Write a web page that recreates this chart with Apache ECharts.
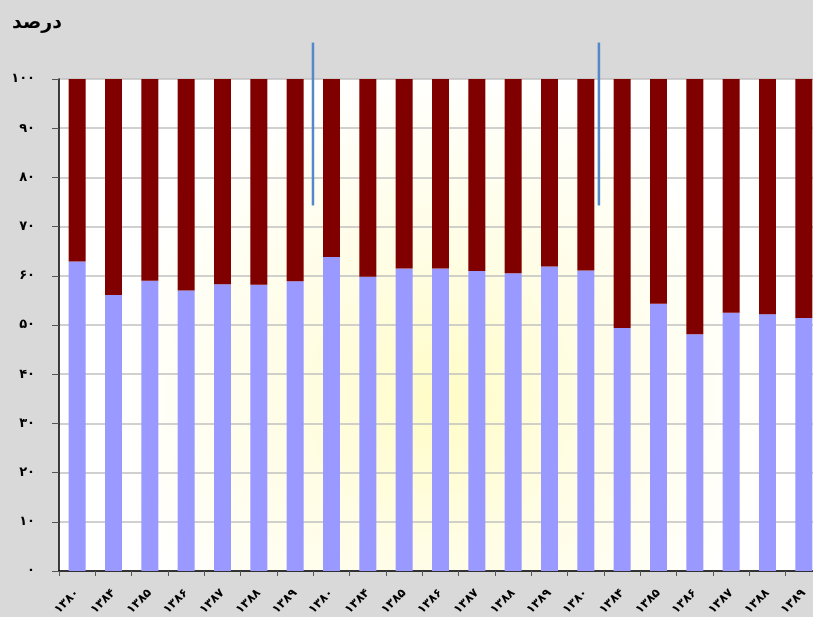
<!DOCTYPE html>
<html>
<head>
<meta charset="utf-8">
<script src="https://cdn.jsdelivr.net/npm/echarts@6/dist/echarts.min.js"></script>
<style>
html,body{margin:0;padding:0;background:#d9d9d9;}
#c{width:813px;height:617px;}
</style>
</head>
<body>
<div id="c"></div>
<script>
const categories = ['۱۳۸۰','۱۳۸۴','۱۳۸۵','۱۳۸۶','۱۳۸۷','۱۳۸۸','۱۳۸۹',
                    '۱۳۸۰','۱۳۸۴','۱۳۸۵','۱۳۸۶','۱۳۸۷','۱۳۸۸','۱۳۸۹',
                    '۱۳۸۰','۱۳۸۴','۱۳۸۵','۱۳۸۶','۱۳۸۷','۱۳۸۸','۱۳۸۹'];
const blueValues = [62.9,56.1,59.0,57.0,58.3,58.2,58.9,
                    63.8,59.8,61.5,61.5,61.0,60.5,61.9,
                    61.1,49.4,54.3,48.1,52.5,52.2,51.4];
const redValues = blueValues.map(v => +(100 - v).toFixed(1));
const yTicks = [0,10,20,30,40,50,60,70,80,90,100];
const title = 'درصد';
// separator lines: [category position, y from, y to]
const separators = [[6.49,107.4,74.3],[14.36,107.4,74.3]];

const faDigits = '۰۱۲۳۴۵۶۷۸۹';
const toFa = n => String(n).replace(/\d/g, d => faDigits[d]);

const chart = echarts.init(document.getElementById('c'));
const font = "'DejaVu Sans', sans-serif";
chart.setOption({
  backgroundColor: '#d9d9d9',
  animation: false,
  title: {
    text: title, left: 7, top: 9,
    textStyle: {fontFamily: font, fontSize: 19, fontWeight: 'bold', color: '#000'}
  },
  grid: {
    left: 59, width: 763, top: 79, height: 492,
    outerBoundsMode: 'none', containLabel: false,
    show: true, borderWidth: 0,
    backgroundColor: {
      type: 'radial', x: 0.5, y: 0.65, r: 0.85,
      colorStops: [{offset: 0, color: '#fffcc6'}, {offset: 0.35, color: '#fffde4'}, {offset: 0.8, color: '#ffffff'}, {offset: 1, color: '#ffffff'}]
    }
  },
  xAxis: {
    type: 'category', data: categories,
    axisLine: {lineStyle: {color: '#000', width: 1.5}},
    axisTick: {show: true, interval: 0, length: 5, lineStyle: {color: '#555'}},
    axisLabel: {interval: 0, rotate: 45, margin: 20, fontFamily: font, fontSize: 12, fontWeight: 'bold', color: '#000'}
  },
  yAxis: {
    type: 'value', min: 0, max: 100, interval: 10,
    axisLine: {show: true, lineStyle: {color: '#000', width: 1.5}},
    axisTick: {show: true, length: 7, lineStyle: {color: '#555'}},
    axisLabel: {margin: 24, fontFamily: font, fontSize: 13, fontWeight: 'bold', color: '#000', formatter: v => toFa(v)},
    splitLine: {lineStyle: {color: '#c0c0c0', width: 1.5}}
  },
  series: [
    {type: 'bar', stack: 'a', data: blueValues, barWidth: 17, itemStyle: {color: '#9999ff'}},
    {type: 'bar', stack: 'a', data: redValues, barWidth: 17, itemStyle: {color: '#800000'}}
  ]
});

function drawSeparators() {
  const els = separators.map(s => {
    const i0 = Math.floor(s[0]);
    const xa = chart.convertToPixel({xAxisIndex: 0}, i0);
    const xb = chart.convertToPixel({xAxisIndex: 0}, i0 + 1);
    const x = xa + (xb - xa) * (s[0] - i0);
    const y1 = chart.convertToPixel({yAxisIndex: 0}, s[1]);
    const y2 = chart.convertToPixel({yAxisIndex: 0}, s[2]);
    return {type: 'line', shape: {x1: x, y1: y1, x2: x, y2: y2}, style: {stroke: '#5588c8', lineWidth: 2.5}, z: 100};
  });
  chart.setOption({graphic: els});
}
drawSeparators();
</script>
</body>
</html>
